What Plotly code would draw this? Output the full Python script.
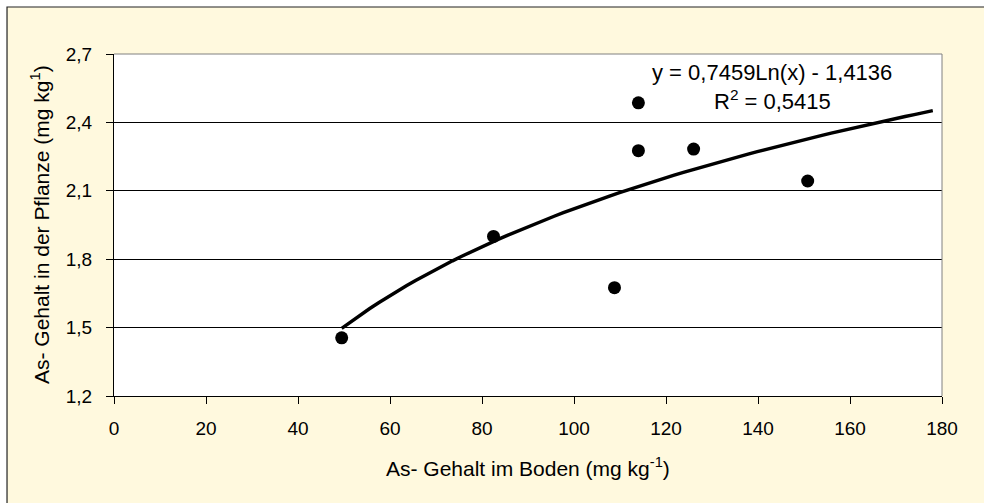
import numpy as np
import plotly.graph_objects as go

# Arsenic content in soil vs. arsenic content in the plant
soil_as = [49.5, 82.5, 108.8, 114.0, 114.0, 126.0, 150.8]
plant_as = [1.455, 1.90, 1.675, 2.486, 2.276, 2.283, 2.143]

# Logarithmic trend line: y = a*ln(x) + b
coef_a = 0.7459
coef_b = -1.4136
r_squared = 0.5415
trend_x_start = 49.5
trend_x_end = 178.0

x_tickvals = [0, 20, 40, 60, 80, 100, 120, 140, 160, 180]
x_ticktext = ["0", "20", "40", "60", "80", "100", "120", "140", "160", "180"]
y_tickvals = [1.2, 1.5, 1.8, 2.1, 2.4, 2.7]
y_ticktext = ["1,2", "1,5", "1,8", "2,1", "2,4", "2,7"]

FONT = "Liberation Sans, Arial, sans-serif"
BG_YELLOW = "#FFF9DE"

def de_num(v, digits):
    return f"{v:.{digits}f}".replace(".", ",")

trend_x = np.linspace(trend_x_start, trend_x_end, 65)
trend_y = coef_a * np.log(trend_x) + coef_b

fig = go.Figure()

fig.add_trace(go.Scatter(
    x=trend_x, y=trend_y, mode="lines",
    line=dict(color="black", width=3.4),
    hoverinfo="skip", showlegend=False,
))
fig.add_trace(go.Scatter(
    x=soil_as, y=plant_as, mode="markers",
    marker=dict(color="black", size=13, line=dict(width=0)),
    showlegend=False,
))

sign = "-" if coef_b < 0 else "+"
eq_text = f"y = {de_num(coef_a, 4)}Ln(x) {sign} {de_num(abs(coef_b), 4)}"
r2_text = f"R<sup>2</sup> = {de_num(r_squared, 4)}"

shapes = [
    # outer chart frame
    dict(type="rect", xref="paper", yref="paper",
         x0=-0.1292, x1=2.0, y0=-2.0, y1=1.1374,
         fillcolor=BG_YELLOW, line=dict(color="#222222", width=1.2), layer="below"),
    # plot area
    dict(type="rect", xref="paper", yref="paper", x0=0, x1=1, y0=0, y1=1,
         fillcolor="white", line=dict(width=0), layer="below"),
    # top and right edges of the plot area
    dict(type="line", xref="paper", yref="paper", x0=0, x1=1, y0=1, y1=1,
         line=dict(color="#808080", width=1), layer="above"),
    dict(type="line", xref="paper", yref="paper", x0=1, x1=1, y0=0, y1=1,
         line=dict(color="#808080", width=1), layer="above"),
]

annotations = [
    dict(text=eq_text, xref="paper", yref="paper",
         x=(772 - 114) / 828, y=(396 - 72) / 342, xanchor="center", yanchor="middle",
         showarrow=False, font=dict(family=FONT, size=22, color="black")),
    dict(text=r2_text, xref="paper", yref="paper",
         x=(772 - 114) / 828, y=(396 - 100) / 342, xanchor="center", yanchor="middle",
         showarrow=False, font=dict(family=FONT, size=22, color="black")),
    dict(text="As- Gehalt im Boden (mg kg<sup>-1</sup>)", xref="paper", yref="paper",
         x=0.5, y=(396 - 467) / 342, xanchor="center", yanchor="middle",
         showarrow=False, font=dict(family=FONT, size=21, color="black")),
    dict(text="As- Gehalt in der Pflanze (mg kg<sup>1</sup>)", xref="paper", yref="paper",
         x=(40 - 114) / 828, y=0.5, xanchor="center", yanchor="middle", textangle=-90,
         showarrow=False, font=dict(family=FONT, size=21, color="black")),
]

fig.update_layout(
    width=984, height=503,
    margin=dict(l=114, r=42, t=54, b=107),
    paper_bgcolor="white",
    plot_bgcolor="white",
    shapes=shapes,
    annotations=annotations,
    font=dict(family=FONT, size=19, color="black"),
    xaxis=dict(
        range=[0, 180], tickvals=x_tickvals, ticktext=x_ticktext,
        showgrid=False, zeroline=False,
        showline=True, linecolor="black", linewidth=1,
        ticks="outside", ticklen=7, tickcolor="black", tickwidth=1,
        ticklabelstandoff=8,
        tickfont=dict(family=FONT, size=19, color="black"),
    ),
    yaxis=dict(
        range=[1.2, 2.7], tickvals=y_tickvals, ticktext=y_ticktext,
        showgrid=True, gridcolor="black", gridwidth=1, zeroline=False,
        showline=True, linecolor="black", linewidth=1,
        ticks="outside", ticklen=7, tickcolor="black", tickwidth=1,
        ticklabelstandoff=10,
        tickfont=dict(family=FONT, size=19, color="black"),
    ),
)

fig.write_html("out.html")
